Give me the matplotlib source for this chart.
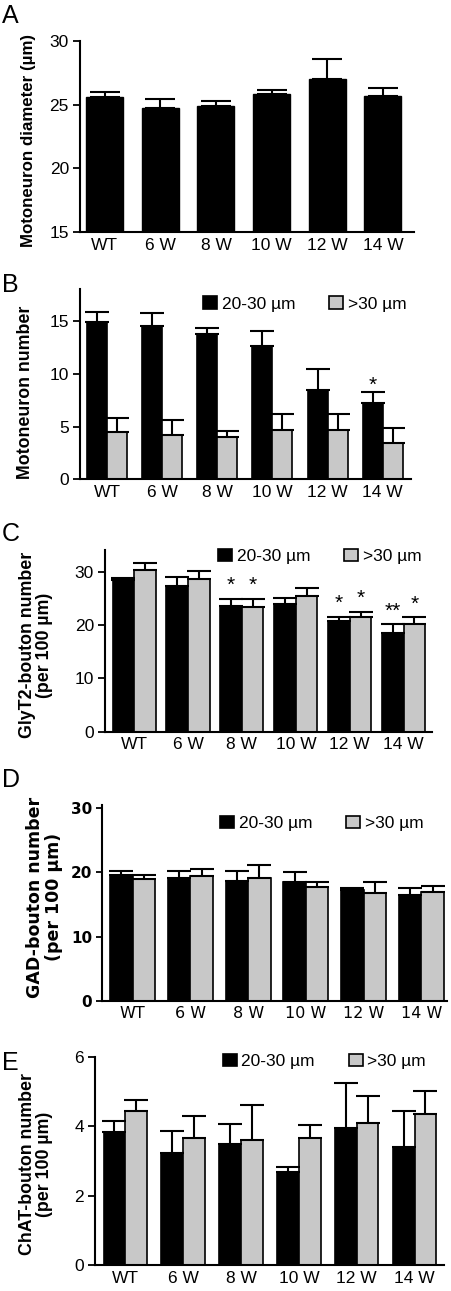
import numpy as np
import matplotlib
matplotlib.use('Agg')
import matplotlib.pyplot as plt

plt.rcParams['font.family'] = ['Liberation Sans', 'DejaVu Sans']

ages = ['WT', '6 W', '8 W', '10 W', '12 W', '14 W']
size_labels = ['20-30 µm', '>30 µm']

# A: motoneuron diameter
diam_mean = [25.59, 24.76, 24.91, 25.85, 27.03, 25.70]
diam_sem = [0.39, 0.70, 0.39, 0.31, 1.59, 0.60]

# B: motoneuron number
num_small = [14.89, 14.57, 13.75, 12.63, 8.49, 7.23]
num_small_sem = [0.98, 1.21, 0.57, 1.42, 1.99, 1.01]
num_large = [4.47, 4.18, 3.96, 4.67, 4.67, 3.44]
num_large_sem = [1.29, 1.46, 0.60, 1.49, 1.49, 1.39]
num_sig_small = ['', '', '', '', '', '*']
num_sig_large = ['', '', '', '', '', '']

# C: GlyT2 boutons
glyt2_small = [28.5, 27.45, 23.7, 24.0, 20.8, 18.5]
glyt2_small_sem = [0.4, 1.65, 1.3, 1.07, 0.8, 1.74]
glyt2_large = [30.3, 28.7, 23.44, 25.5, 21.56, 20.19]
glyt2_large_sem = [1.35, 1.56, 1.56, 1.57, 1.0, 1.37]
glyt2_sig_small = ['', '', '*', '', '*', '**']
glyt2_sig_large = ['', '', '*', '', '*', '*']

# D: GAD boutons
gad_small = [19.6, 19.09, 18.73, 18.52, 17.27, 16.5]
gad_small_sem = [0.63, 1.14, 1.5, 1.51, 0.27, 1.04]
gad_large = [19.04, 19.4, 19.1, 17.74, 16.76, 16.96]
gad_large_sem = [0.52, 1.2, 2.0, 0.78, 1.76, 0.94]

# E: ChAT boutons
chat_small = [3.83, 3.22, 3.50, 2.67, 3.94, 3.39]
chat_small_sem = [0.31, 0.63, 0.56, 0.17, 1.30, 1.04]
chat_large = [4.44, 3.66, 3.61, 3.67, 4.08, 4.36]
chat_large_sem = [0.31, 0.62, 0.99, 0.36, 0.78, 0.65]

W, H = 452, 1291
fig = plt.figure(figsize=(W / 100, H / 100), dpi=100)

GRAY = '#c8c8c8'
TICK_FS = 12.5


def px_axes(left, top, right, bottom):
    # axes box given in figure pixels
    return fig.add_axes([left / W, 1 - bottom / H, (right - left) / W, (bottom - top) / H])


def style(ax, xlim, ylim, yticks, ylabel, label_xy, label_fs=12.5, bold_d=False):
    x = np.arange(len(ages))
    ax.set_xlim(*xlim)
    ax.set_ylim(*ylim)
    ax.set_xticks(x)
    ax.set_yticks(yticks)
    for s in ['top', 'right']:
        ax.spines[s].set_visible(False)
    for s in ['left', 'bottom']:
        ax.spines[s].set_linewidth(1.5)
    ax.tick_params(axis='x', length=0, pad=4)
    ax.tick_params(axis='y', length=5, width=1.3, pad=3)
    if bold_d:
        ax.set_xticklabels(ages, family='DejaVu Sans', fontsize=11.5)
        ax.set_yticklabels([str(t) for t in yticks], family='DejaVu Sans',
                           fontweight='bold', fontsize=11)
        ax.set_ylabel(ylabel, family='DejaVu Sans', fontweight='bold', fontsize=label_fs,
                      linespacing=1.05)
    else:
        ax.set_xticklabels(ages, fontsize=TICK_FS)
        ax.set_yticklabels([str(t) for t in yticks], fontsize=TICK_FS)
        ax.set_ylabel(ylabel, fontweight='bold', fontsize=label_fs, linespacing=1.0)
    ax.yaxis.set_label_coords(*label_xy)


def grouped(ax, small, small_sem, large, large_sem, width, capsize,
            sig_small=None, sig_large=None, star_off=1):
    x = np.arange(len(ages))
    n = len(ages)
    b1 = ax.bar(x - width / 2, small, width, color='k', edgecolor='k', linewidth=1.2,
                label=size_labels[0], zorder=2)
    b2 = ax.bar(x + width / 2, large, width, color=GRAY, edgecolor='k', linewidth=1.2,
                label=size_labels[1], zorder=2)
    ax.errorbar(x - width / 2, small, yerr=[np.zeros(n), small_sem], fmt='none',
                ecolor='k', elinewidth=1.5, capsize=capsize, capthick=1.5, zorder=3)
    ax.errorbar(x + width / 2, large, yerr=[np.zeros(n), large_sem], fmt='none',
                ecolor='k', elinewidth=1.5, capsize=capsize, capthick=1.5, zorder=3)
    for xs, m, e, sig in [(x - width / 2, small, small_sem, sig_small),
                          (x + width / 2, large, large_sem, sig_large)]:
        if sig is None:
            continue
        for xi, mi, ei, s in zip(xs, m, e, sig):
            if s:
                ax.annotate(s, (xi, mi + ei), xytext=(0, star_off), textcoords='offset points',
                            ha='center', va='bottom', fontsize=15)
    return b1, b2


def add_legend(ax, handles, anchor):
    ax.legend(handles, size_labels, ncol=2, loc='center left', bbox_to_anchor=anchor,
              frameon=False, borderpad=0, borderaxespad=0, handlelength=0.82,
              handleheight=0.72, handletextpad=0.25, columnspacing=1.95,
              fontsize=12.5)


# ---- A ----
axA = px_axes(80, 41, 414, 232)
x = np.arange(len(ages))
axA.bar(x, diam_mean, 0.665, color='k', edgecolor='k', zorder=2)
axA.errorbar(x, diam_mean, yerr=[np.zeros(len(ages)), diam_sem], fmt='none', ecolor='k',
             elinewidth=1.5, capsize=11, capthick=1.5, zorder=3)
style(axA, (-0.444, 5.56), (15, 30), [15, 20, 25, 30], 'Motoneuron diameter (µm)',
      (-0.132, 0.48), label_fs=12.2)

# ---- B ----
axB = px_axes(80, 289.3, 410.7, 479.3)
hB = grouped(axB, num_small, num_small_sem, num_large, num_large_sem, 0.363, 8.5,
             num_sig_small, num_sig_large, star_off=-2)
style(axB, (-0.495, 5.51), (0, 18), [0, 5, 10, 15], 'Motoneuron number', (-0.139, 0.46),
      label_fs=12.8)
add_legend(axB, hB, (0.372, 0.923))

# ---- C ----
axC = px_axes(105, 550, 431.7, 731.7)
hC = grouped(axC, glyt2_small, glyt2_small_sem, glyt2_large, glyt2_large_sem, 0.40, 8.5,
             glyt2_sig_small, glyt2_sig_large, star_off=2.5)
style(axC, (-0.54, 5.52), (0, 34.15), [0, 10, 20, 30],
      'GlyT2-bouton number\n(per 100 µm)', (-0.158, 0.477), label_fs=12.8)
add_legend(axC, hC, (0.346, 0.963))

# ---- D ----
axD = px_axes(101.7, 805, 446.7, 1000.9)
hD = grouped(axD, gad_small, gad_small_sem, gad_large, gad_large_sem, 0.39, 8.5)
style(axD, (-0.537, 5.44), (0, 30.5), [0, 10, 20, 30],
      'GAD-bouton number\n(per 100 µm)', (-0.112, 0.53), label_fs=12.5, bold_d=True)
axD.tick_params(axis='y', length=4)
add_legend(axD, hD, (0.343, 0.907))

# ---- E ----
axE = px_axes(95, 1056.7, 444, 1265.3)
hE = grouped(axE, chat_small, chat_small_sem, chat_large, chat_large_sem, 0.375, 8.5)
style(axE, (-0.524, 5.51), (0, 6), [0, 2, 4, 6],
      'ChAT-bouton number\n(per 100 µm)', (-0.12, 0.486), label_fs=12.8)
add_legend(axE, hE, (0.366, 0.976))

# panel letters
for letter, ytop in [('A', 4), ('B', 273), ('C', 521.7), ('D', 768), ('E', 1050.7)]:
    fig.text(2 / W, 1 - ytop / H, letter, fontsize=18, va='top', ha='left')

fig.savefig('out.png', dpi=100)
